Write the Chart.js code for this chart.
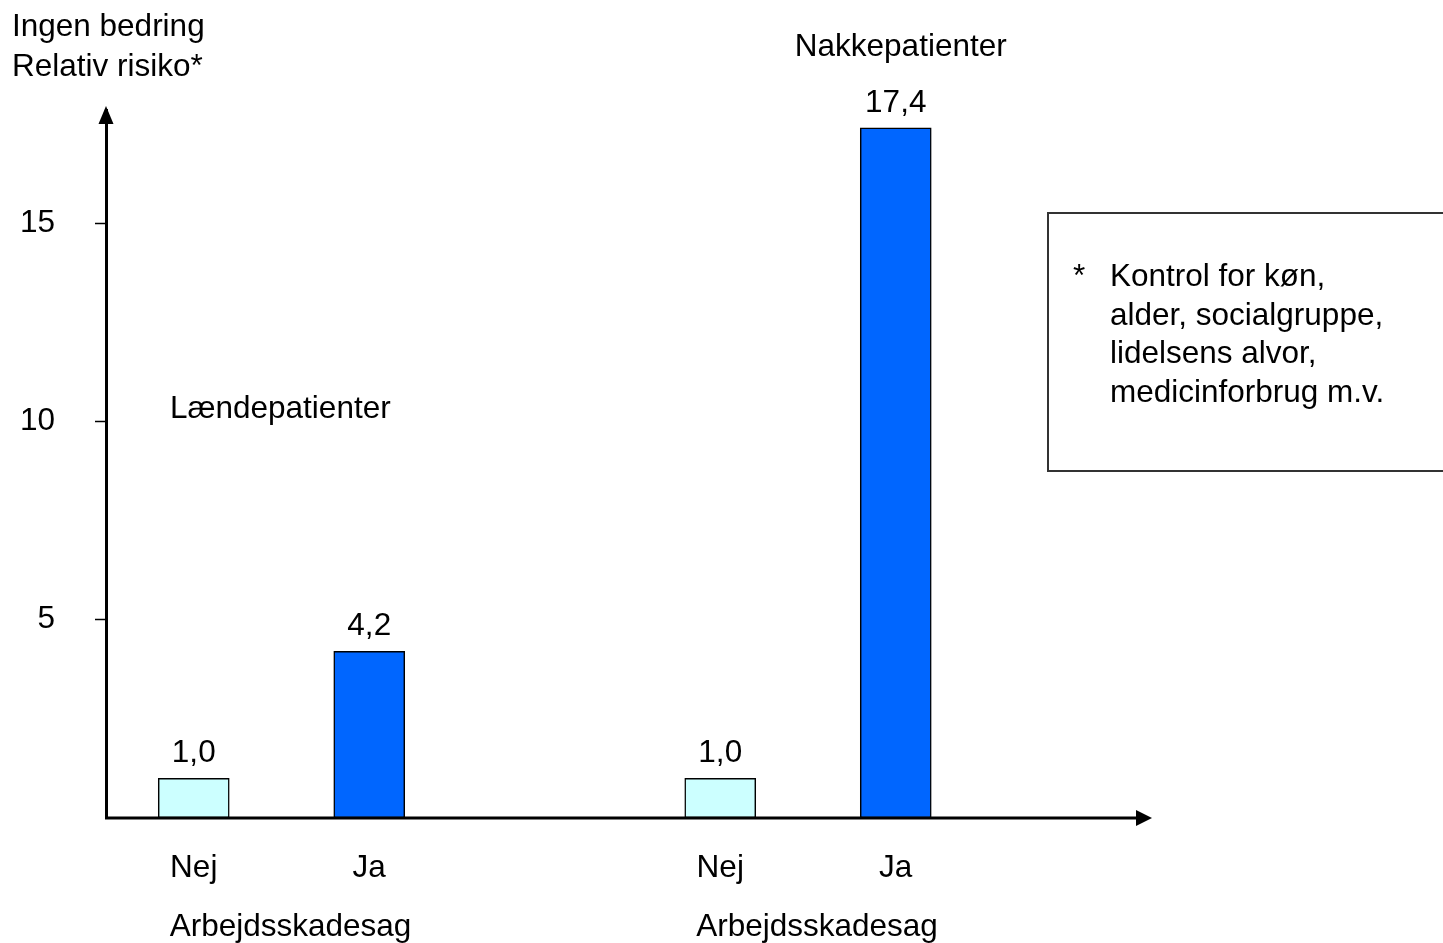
<!DOCTYPE html>
<html>
<head>
<meta charset="utf-8">
<script src="https://cdn.jsdelivr.net/npm/chart.js@4/dist/chart.umd.min.js"></script>
<style>
  html, body { margin: 0; padding: 0; background: #fff; }
  #wrap { width: 1443px; height: 943px; }
</style>
</head>
<body>
<div id="wrap"><canvas id="risiko" width="1443" height="943"></canvas></div>
<script>
// data
var kategorier = ['Nej', 'Ja', '', 'Nej', 'Ja', ''];
var relativRisiko = [1.0, 4.2, null, 1.0, 17.4, null];
var barFarver = ['#CCFFFF', '#0066FF', '#ffffff', '#CCFFFF', '#0066FF', '#ffffff'];
var yTicks = [5, 10, 15];
var grupper = ['Lændepatienter', 'Nakkepatienter'];
var fodnote = ['Kontrol for køn,', 'alder, socialgruppe,', 'lidelsens alvor,', 'medicinforbrug m.v.'];

var FONT = "'Liberation Sans', Arial, sans-serif";
var FS = 31.5;

function fmt(v) {
    return v.toFixed(1).replace('.', ',');
}

// tekster, pile og boks
const tegnPlugin = {
    id: 'tegn',
    afterDraw: function (chart) {
        var ctx = chart.ctx;
        var area = chart.chartArea;
        var x = chart.scales.x;
        var meta = chart.getDatasetMeta(0);
        ctx.save();

        // x-akse med pil
        ctx.strokeStyle = '#000';
        ctx.fillStyle = '#000';
        ctx.lineWidth = 3;
        var tipX = area.right - 7;
        ctx.beginPath();
        ctx.moveTo(area.left - 1, area.bottom);
        ctx.lineTo(tipX - 14, area.bottom);
        ctx.stroke();
        ctx.beginPath();
        ctx.moveTo(tipX, area.bottom);
        ctx.lineTo(tipX - 16, area.bottom - 8);
        ctx.lineTo(tipX - 16, area.bottom + 8);
        ctx.closePath();
        ctx.fill();

        // y-akse pil
        ctx.beginPath();
        ctx.moveTo(area.left, area.top - 4);
        ctx.lineTo(area.left - 7.5, area.top + 14);
        ctx.lineTo(area.left + 7.5, area.top + 14);
        ctx.closePath();
        ctx.fill();

        ctx.font = FS + 'px ' + FONT;
        ctx.textBaseline = 'alphabetic';

        // værdier over søjlerne
        ctx.textAlign = 'center';
        meta.data.forEach(function (bar, i) {
            if (relativRisiko[i] == null) return;
            ctx.fillText(fmt(relativRisiko[i]), bar.x, bar.y - 16);
        });

        // Arbejdsskadesag under hver gruppe
        var g1 = (x.getPixelForValue(0) + x.getPixelForValue(1)) / 2 + 9;
        var g2 = (x.getPixelForValue(3) + x.getPixelForValue(4)) / 2 + 9;
        ctx.fillText('Arbejdsskadesag', g1, 936);
        ctx.fillText('Arbejdsskadesag', g2, 936);

        // gruppenavne
        ctx.textAlign = 'left';
        ctx.fillText(grupper[0], 170, 418);
        ctx.textAlign = 'center';
        ctx.fillText(grupper[1], x.getPixelForValue(4) + 5, 56);

        // y-akse titel
        ctx.textAlign = 'left';
        ctx.fillText('Ingen bedring', 12, 36);
        ctx.fillText('Relativ risiko*', 12, 76);

        // fodnote-boks
        ctx.strokeStyle = '#333';
        ctx.lineWidth = 2;
        ctx.beginPath();
        ctx.moveTo(1460, 213);
        ctx.lineTo(1048, 213);
        ctx.lineTo(1048, 471);
        ctx.lineTo(1460, 471);
        ctx.stroke();
        ctx.fillText('*', 1073, 286);
        fodnote.forEach(function (linje, i) {
            ctx.fillText(linje, 1110, 286 + i * 38.5);
        });

        ctx.restore();
    }
};

const $risiko = document.querySelector('#risiko');

new Chart($risiko, {
    type: 'bar',
    data: {
        labels: kategorier,
        datasets: [{
            data: relativRisiko,
            backgroundColor: barFarver,
            borderColor: '#000',
            borderWidth: 1.5,
            borderSkipped: false,
            barThickness: 71,
        }],
    },
    options: {
        responsive: false,
        animation: false,
        events: [],
        layout: {
            padding: { left: 0, top: 110, right: 284, bottom: 0 },
        },
        plugins: {
            legend: { display: false },
            tooltip: { enabled: false },
        },
        scales: {
            x: {
                grid: { display: false, drawTicks: false },
                border: { display: false },
                ticks: {
                    color: '#000',
                    padding: 31,
                    font: { family: FONT, size: FS },
                },
                afterFit: function (scale) { scale.height = 125; },
            },
            y: {
                min: 0,
                max: 17.85,
                grid: {
                    drawOnChartArea: false,
                    drawTicks: true,
                    tickLength: 11,
                    tickColor: '#000',
                    tickWidth: 1.5,
                },
                border: { display: true, color: '#000', width: 3 },
                ticks: {
                    color: '#000',
                    padding: 40,
                    font: { family: FONT, size: FS },
                },
                afterBuildTicks: function (scale) {
                    scale.ticks = yTicks.map(function (v) { return { value: v }; });
                },
                afterFit: function (scale) { scale.width = 106; },
            },
        },
    },
    plugins: [tegnPlugin],
});
</script>
</body>
</html>
